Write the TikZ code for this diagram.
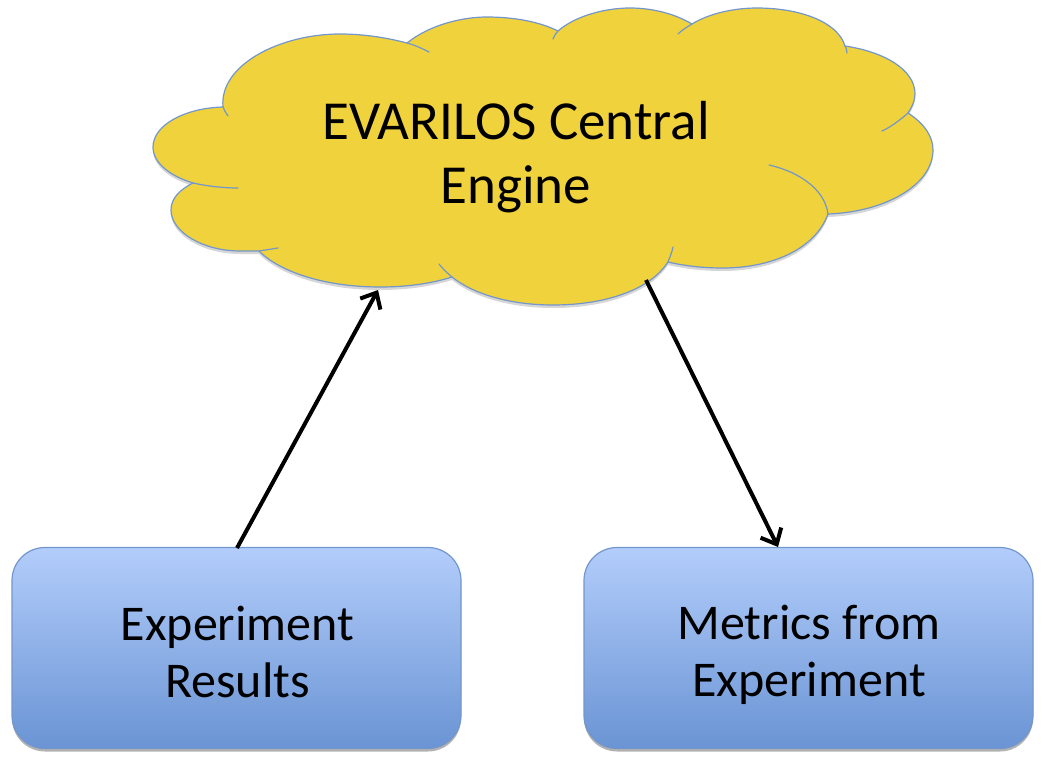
\documentclass[tikz,border=0pt]{standalone}
\usepackage{fontspec}
\setmainfont{Carlito}
\usetikzlibrary{arrows.meta,shadows}
\definecolor{cloudfill}{HTML}{F0D23C}
\definecolor{edgeblue}{HTML}{7396CB}
\definecolor{boxtop}{HTML}{B3CDFB}
\definecolor{boxbot}{HTML}{6A94D4}
\newcommand{\cloudoutline}{(223,107) .. controls (219,65) and (280,34) .. (340,34) .. controls (365,34) and (388,38) .. (407,43)
 .. controls (428,26) and (460,17) .. (487,17) .. controls (515,17) and (540,22) .. (558,31)
 .. controls (575,16) and (605,8) .. (630,8) .. controls (655,8) and (677,15) .. (692,24)
 .. controls (710,13) and (735,8) .. (757,8) .. controls (800,8) and (838,22) .. (845,46)
 .. controls (885,52) and (915,70) .. (915,94) .. controls (915,101) and (912,107) .. (908,113)
 .. controls (925,124) and (933,137) .. (933,150) .. controls (933,185) and (885,212) .. (828,214)
 .. controls (815,250) and (770,268) .. (723,268) .. controls (703,268) and (685,266) .. (668,262)
 .. controls (650,290) and (605,305) .. (553,305) .. controls (510,305) and (473,294) .. (452,277)
 .. controls (430,284) and (405,287) .. (380,287) .. controls (325,287) and (280,272) .. (259,251)
 .. controls (252,251) and (246,251) .. (240,251) .. controls (203,251) and (171,232) .. (171,210) .. controls (171,199) and (179,190) .. (193,183)
 .. controls (170,176) and (153,163) .. (153,147) .. controls (153,125) and (185,108) .. (223,107) -- cycle}
\tikzset{
  edge line/.style={draw=edgeblue,line width=1.2pt},
  infobox/.style={rectangle,rounded corners=33pt,minimum width=449pt,minimum height=201pt,inner sep=0pt,
    edge line,top color=boxtop,bottom color=boxbot,
    drop shadow={shadow xshift=0pt,shadow yshift=-3pt,opacity=.3,fill=black}},
  boxlabel/.style={align=center,font=\fontsize{50}{57.5}\selectfont,text=black,inner sep=0pt},
  cloudlabel/.style={align=center,font=\fontsize{55}{64.5}\selectfont,text=black,inner sep=0pt},
  flow/.style={draw=black,line width=4pt,-{Straight Barb[length=13pt,width=23pt,line width=4pt]}}
}
\begin{document}
\begin{tikzpicture}[x=1pt,y=-1pt]
\useasboundingbox (0,0) rectangle (1050,768);
\fill[black,opacity=.16,yshift=-3pt] \cloudoutline;
\path[fill=cloudfill,edge line] \cloudoutline;
\path[edge line,line cap=round]
  (407,43) .. controls (415,45) and (423,49) .. (429,52)
  (223,107) .. controls (224,110) and (226,113) .. (228,116)
  (558,31) .. controls (556,33) and (554,36) .. (553,39)
  (692,24) .. controls (687,27) and (682,30) .. (678,34)
  (845,46) .. controls (846,48) and (847,50) .. (847,53)
  (908,113) .. controls (900,120) and (891,127) .. (882,131)
  (828,214) .. controls (825,190) and (800,172) .. (769,165)
  (668,262) .. controls (670,257) and (672,252) .. (673,247)
  (452,277) .. controls (447,273) and (443,269) .. (439,264)
  (259,251) .. controls (265,250) and (272,249) .. (278,248)
  (193,183) .. controls (207,186) and (222,188) .. (238,188);
\node[cloudlabel] (engine) at (516,157) {EVARILOS Central\\Engine};
\node[infobox] (results) at (236.5,648) {};
\node[infobox] (metrics) at (808.5,648) {};
\node[boxlabel] (resultslabel) at (237.5,652) {Experiment\\Results};
\node[boxlabel] (metricslabel) at (809,655) {Metrics from\\Experiment};
\coordinate (cloudin) at (378,290);
\coordinate (cloudout) at (646,280);
\coordinate (resultsout) at (237,548);
\coordinate (metricsin) at (778,547);
\draw[flow] (resultsout) -- (cloudin);
\draw[flow] (cloudout) -- (metricsin);
\end{tikzpicture}
\end{document}
